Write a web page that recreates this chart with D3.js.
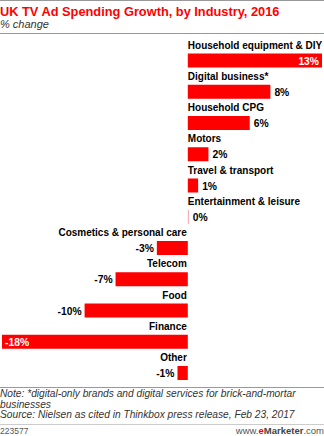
<!DOCTYPE html>
<html>
<head>
<meta charset="utf-8">
<script src="https://cdnjs.cloudflare.com/ajax/libs/d3/7.8.5/d3.min.js"></script>
<style>
  body { margin: 0; background: #fff; }
  svg { display: block; font-family: "Liberation Sans", Arial, sans-serif; }
</style>
</head>
<body>
<div id="wrapper"></div>
<script>
const categories = [
  "Household equipment & DIY",
  "Digital business*",
  "Household CPG",
  "Motors",
  "Travel & transport",
  "Entertainment & leisure",
  "Cosmetics & personal care",
  "Telecom",
  "Food",
  "Finance",
  "Other"
]
const values = [13, 8, 6, 2, 1, 0, -3, -7, -10, -18, -1]
const valueLabels = ["13%", "8%", "6%", "2%", "1%", "0%", "-3%", "-7%", "-10%", "-18%", "-1%"]

const titleText = "UK TV Ad Spending Growth, by Industry, 2016"
const subtitleText = "% change"
const noteLines = [
  "Note: *digital-only brands and digital services for brick-and-mortar",
  "businesses",
  "Source: Nielsen as cited in Thinkbox press release, Feb 23, 2017"
]
const chartId = "223577"

const dataset = categories.map((c, i) => ({ name: c, value: values[i], label: valueLabels[i] }))

let dimensions = {
  width: 324,
  height: 436,
  margin: { top: 35, right: 2, bottom: 56, left: 2 }
}
dimensions.boundedWidth = dimensions.width - dimensions.margin.left - dimensions.margin.right
dimensions.boundedHeight = dimensions.height - dimensions.margin.top - dimensions.margin.bottom

const red = "#ff0000"
const grey = "#999"

const svg = d3.select("#wrapper")
  .append("svg")
    .attr("width", dimensions.width)
    .attr("height", dimensions.height)

// header
svg.append("rect").attr("x", 0).attr("y", 0).attr("width", 324).attr("height", 1).attr("fill", grey)
svg.append("text")
  .attr("x", 0).attr("y", 16)
  .attr("fill", red)
  .attr("font-size", 12.8)
  .attr("font-weight", "bold")
  .text(titleText)
svg.append("text")
  .attr("x", 0).attr("y", 28)
  .attr("fill", "#333")
  .attr("font-size", 11)
  .attr("font-style", "italic")
  .text(subtitleText)
svg.append("rect").attr("x", 0).attr("y", 33).attr("width", 324).attr("height", 1).attr("fill", grey)

const xScale = d3.scaleLinear()
  .domain([-18, 13])
  .range([0, dimensions.boundedWidth])

const step = 31.25
const yScale = d3.scaleBand()
  .domain(categories)
  .range([11, 11 + step * categories.length])
  .padding(0)

const bounds = svg.append("g")
  .attr("transform", `translate(${dimensions.margin.left}, ${dimensions.margin.top})`)

const x0 = xScale(0)
const barH = 14

const rows = bounds.selectAll("g.row")
  .data(dataset)
  .join("g")
    .attr("class", "row")

rows.append("rect")
  .attr("x", d => d.value === 0 ? x0 : xScale(Math.min(0, d.value)))
  .attr("y", d => yScale(d.name) + 7.5)
  .attr("width", d => d.value === 0 ? 1 : Math.abs(xScale(d.value) - x0))
  .attr("height", barH)
  .attr("fill", d => d.value === 0 ? "#f7a0a0" : red)

rows.append("text")
  .attr("x", d => d.value >= 0 ? x0 : x0 - 1)
  .attr("y", d => yScale(d.name) + 2.5)
  .attr("text-anchor", d => d.value >= 0 ? "start" : "end")
  .attr("font-size", 10)
  .attr("font-weight", "bold")
  .attr("fill", "#000")
  .text(d => d.name)

const inside = d => Math.abs(xScale(d.value) - x0) > 120
rows.append("text")
  .attr("x", d => {
    const end = xScale(d.value)
    if (inside(d)) return d.value > 0 ? end - 3 : end + 3
    return d.value >= 0 ? end + 4 + (d.value === 0 ? 1 : 0) : end - 3
  })
  .attr("y", d => yScale(d.name) + 18.5)
  .attr("text-anchor", d => (d.value >= 0) !== inside(d) ? "start" : "end")
  .attr("font-size", 10.3)
  .attr("font-weight", "bold")
  .attr("fill", d => inside(d) ? "#fff" : "#000")
  .text(d => d.label)

// footer
svg.append("rect").attr("x", 0).attr("y", 387).attr("width", 324).attr("height", 1).attr("fill", grey)
svg.append("g")
  .selectAll("text")
  .data(noteLines)
  .join("text")
    .attr("x", 0)
    .attr("y", (d, i) => 397 + i * 10.5)
    .attr("font-size", 10.2)
    .attr("font-style", "italic")
    .attr("fill", "#333")
    .text(d => d)
svg.append("rect").attr("x", 0).attr("y", 424).attr("width", 324).attr("height", 1).attr("fill", "#ccc")
svg.append("text")
  .attr("x", 0).attr("y", 434)
  .attr("font-size", 8.5)
  .attr("fill", "#555")
  .text(chartId)
const brand = svg.append("text")
  .attr("x", 324).attr("y", 434)
  .attr("text-anchor", "end")
  .attr("font-size", 9.5)
  .attr("fill", "#555")
brand.append("tspan").text("www.")
brand.append("tspan").attr("fill", red).attr("font-weight", "bold").text("e")
brand.append("tspan").attr("fill", "#444").attr("font-weight", "bold").text("Marketer")
brand.append("tspan").text(".com")
</script>
</body>
</html>
